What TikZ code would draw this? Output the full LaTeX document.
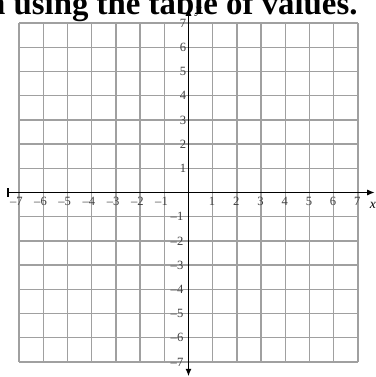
\documentclass[tikz,border=0pt]{standalone}
\usepackage{fontspec}
\setmainfont{Liberation Serif}
\usetikzlibrary{arrows.meta}
\definecolor{gridgray}{HTML}{A0A0A0}
\definecolor{labelgray}{HTML}{404040}
\tikzset{
  gridline/.style={draw=gridgray, line width=0.9pt},
  axisline/.style={draw=black, line width=1pt},
  ticklabel/.style={text=labelgray, font=\fontsize{7.4}{8}\selectfont, inner sep=0pt},
  axislabel/.style={font=\itshape\fontsize{8}{9}\selectfont, inner sep=0pt},
}

\begin{document}
\begin{tikzpicture}[x=0.5cm, y=0.5cm]
  \useasboundingbox (-7.789,-7.624) rectangle (7.748,7.955);
  \clip (-7.789,-7.624) rectangle (7.748,7.955);

  % heading, cut off at the top and left
  \node[anchor=base east, inner sep=0pt, font=\bfseries\fontsize{19.3}{23}\selectfont] (title) at (7.0,7.36) {h using the table of values.};

  % grid
  \draw[gridline, step=0.5cm] (-7,-7) grid (7,7);

  % axes
  \coordinate (xleft) at (-7.5,0);
  \coordinate (xright) at (7.7,0);
  \coordinate (ybottom) at (0,-7.6);
  \coordinate (ytop) at (0,7.62);
  \draw[axisline, {Bar[width=5pt,line width=1.3pt]}-{Latex[length=4.5pt,width=3.6pt]}] (xleft) -- (xright);
  \draw[axisline, {Latex[length=4.5pt,width=3.6pt]}-{Latex[length=4.5pt,width=3.6pt]}] (ybottom) -- (ytop);
  \node[axislabel] (xname) at (7.62,-0.55) {x};
  \node[axislabel] (yname) at (0.42,7.45) {y};

  % tick labels
  \foreach \k in {1,...,7} {
    \node[ticklabel, anchor=east] (xpos\k) at (\k+0.12,-0.38) {\k};
    \node[ticklabel, anchor=east] (xneg\k) at (-\k+0.16,-0.38) {--\k};
    \node[ticklabel, anchor=east] (ypos\k) at (-0.08,\k) {\k};
    \node[ticklabel, anchor=east] (yneg\k) at (-0.2,-\k) {--\k};
  }
\end{tikzpicture}
\end{document}
